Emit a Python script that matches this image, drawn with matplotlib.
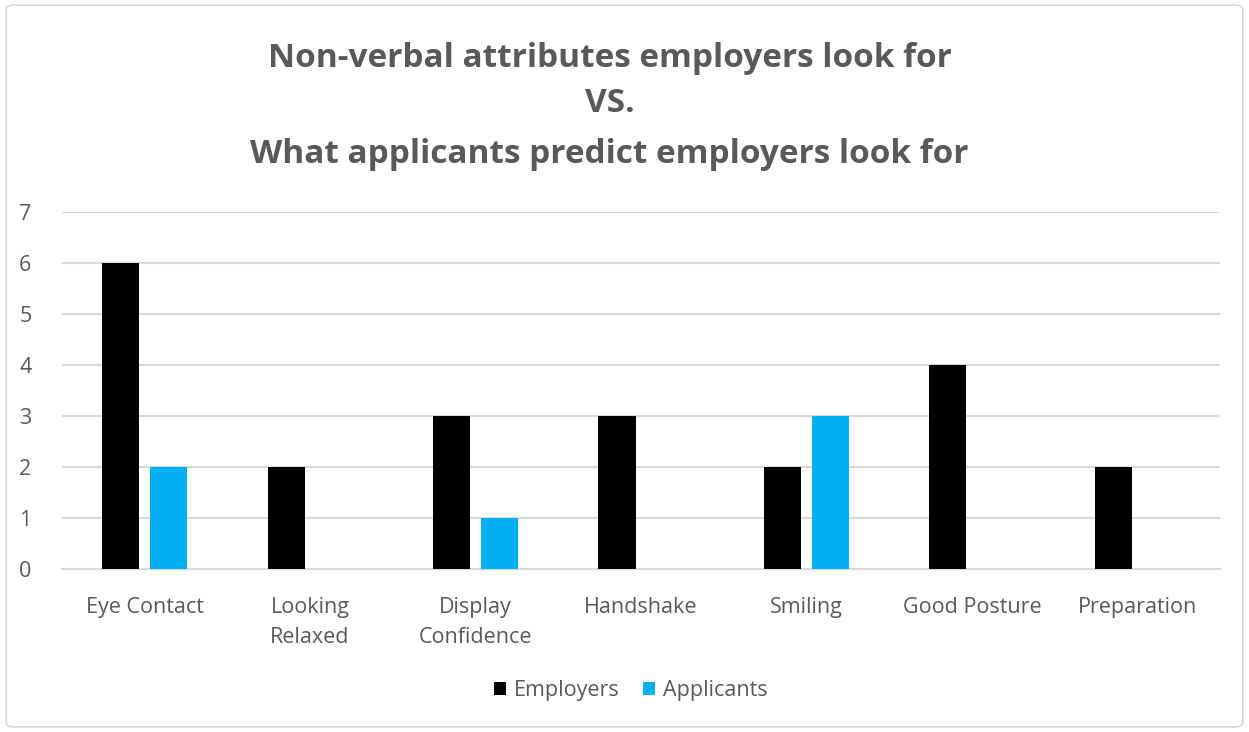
import matplotlib.pyplot as plt
import numpy as np
from matplotlib.patches import FancyBboxPatch

categories = ['Eye Contact', 'Looking\nRelaxed', 'Display\nConfidence', 'Handshake',
              'Smiling', 'Good Posture', 'Preparation']
employers = [6, 2, 3, 3, 2, 4, 2]
applicants = [2, 0, 1, 0, 3, 0, 0]

TEXT = '#595959'
GRID = '#D9D9D9'
BLACK = '#000000'
BLUE = '#00B0F0'

plt.rcParams['font.family'] = ['Open Sans', 'DejaVu Sans']

fig = plt.figure(figsize=(12.49, 7.32), dpi=100, facecolor='white')

# chart area border
fig.patches.append(FancyBboxPatch(
    (0.005, 0.007), 0.99, 0.986, boxstyle='round,pad=0,rounding_size=0.006',
    transform=fig.transFigure, fill=False, edgecolor=GRID, linewidth=1.2))

ax = fig.add_axes([0.0496, 0.2227, 0.9272, 0.4877])
x = np.arange(len(categories))
w = 0.224
off = 0.145
ax.bar(x - off, employers, w, color=BLACK, label='Employers', zorder=3)
ax.bar(x + off, applicants, w, color=BLUE, label='Applicants', zorder=3)

ax.set_xlim(-0.5, len(categories) - 0.5)
ax.set_ylim(0, 7)
ax.set_yticks(range(0, 8))
ax.yaxis.grid(True, color=GRID, linewidth=1.5, zorder=0)
ax.set_axisbelow(True)
for s in ['top', 'right', 'left']:
    ax.spines[s].set_visible(False)
ax.spines['bottom'].set_color(GRID)
ax.spines['bottom'].set_linewidth(1.5)
ax.tick_params(axis='both', length=0, colors=TEXT, labelsize=15.5)
ax.tick_params(axis='x', pad=20)
ax.tick_params(axis='y', pad=22)
ax.set_xticks(x)
ax.set_xticklabels(categories, linespacing=1.6)

title_lines = ['Non-verbal attributes employers look for', 'VS.',
               'What applicants predict employers look for']
for ty, line in zip([0.920, 0.859, 0.789], title_lines):
    fig.text(0.488, ty, line, ha='center', va='center',
             fontsize=24, fontweight='bold', color=TEXT)

ax.legend(loc='center', bbox_to_anchor=(0.505, 0.057), bbox_transform=fig.transFigure,
          ncol=2, frameon=False, fontsize=15.5, labelcolor=TEXT,
          handlelength=0.55, handleheight=0.55, handletextpad=0.35, columnspacing=1.1)

fig.savefig('out.png', dpi=100, facecolor='white')
